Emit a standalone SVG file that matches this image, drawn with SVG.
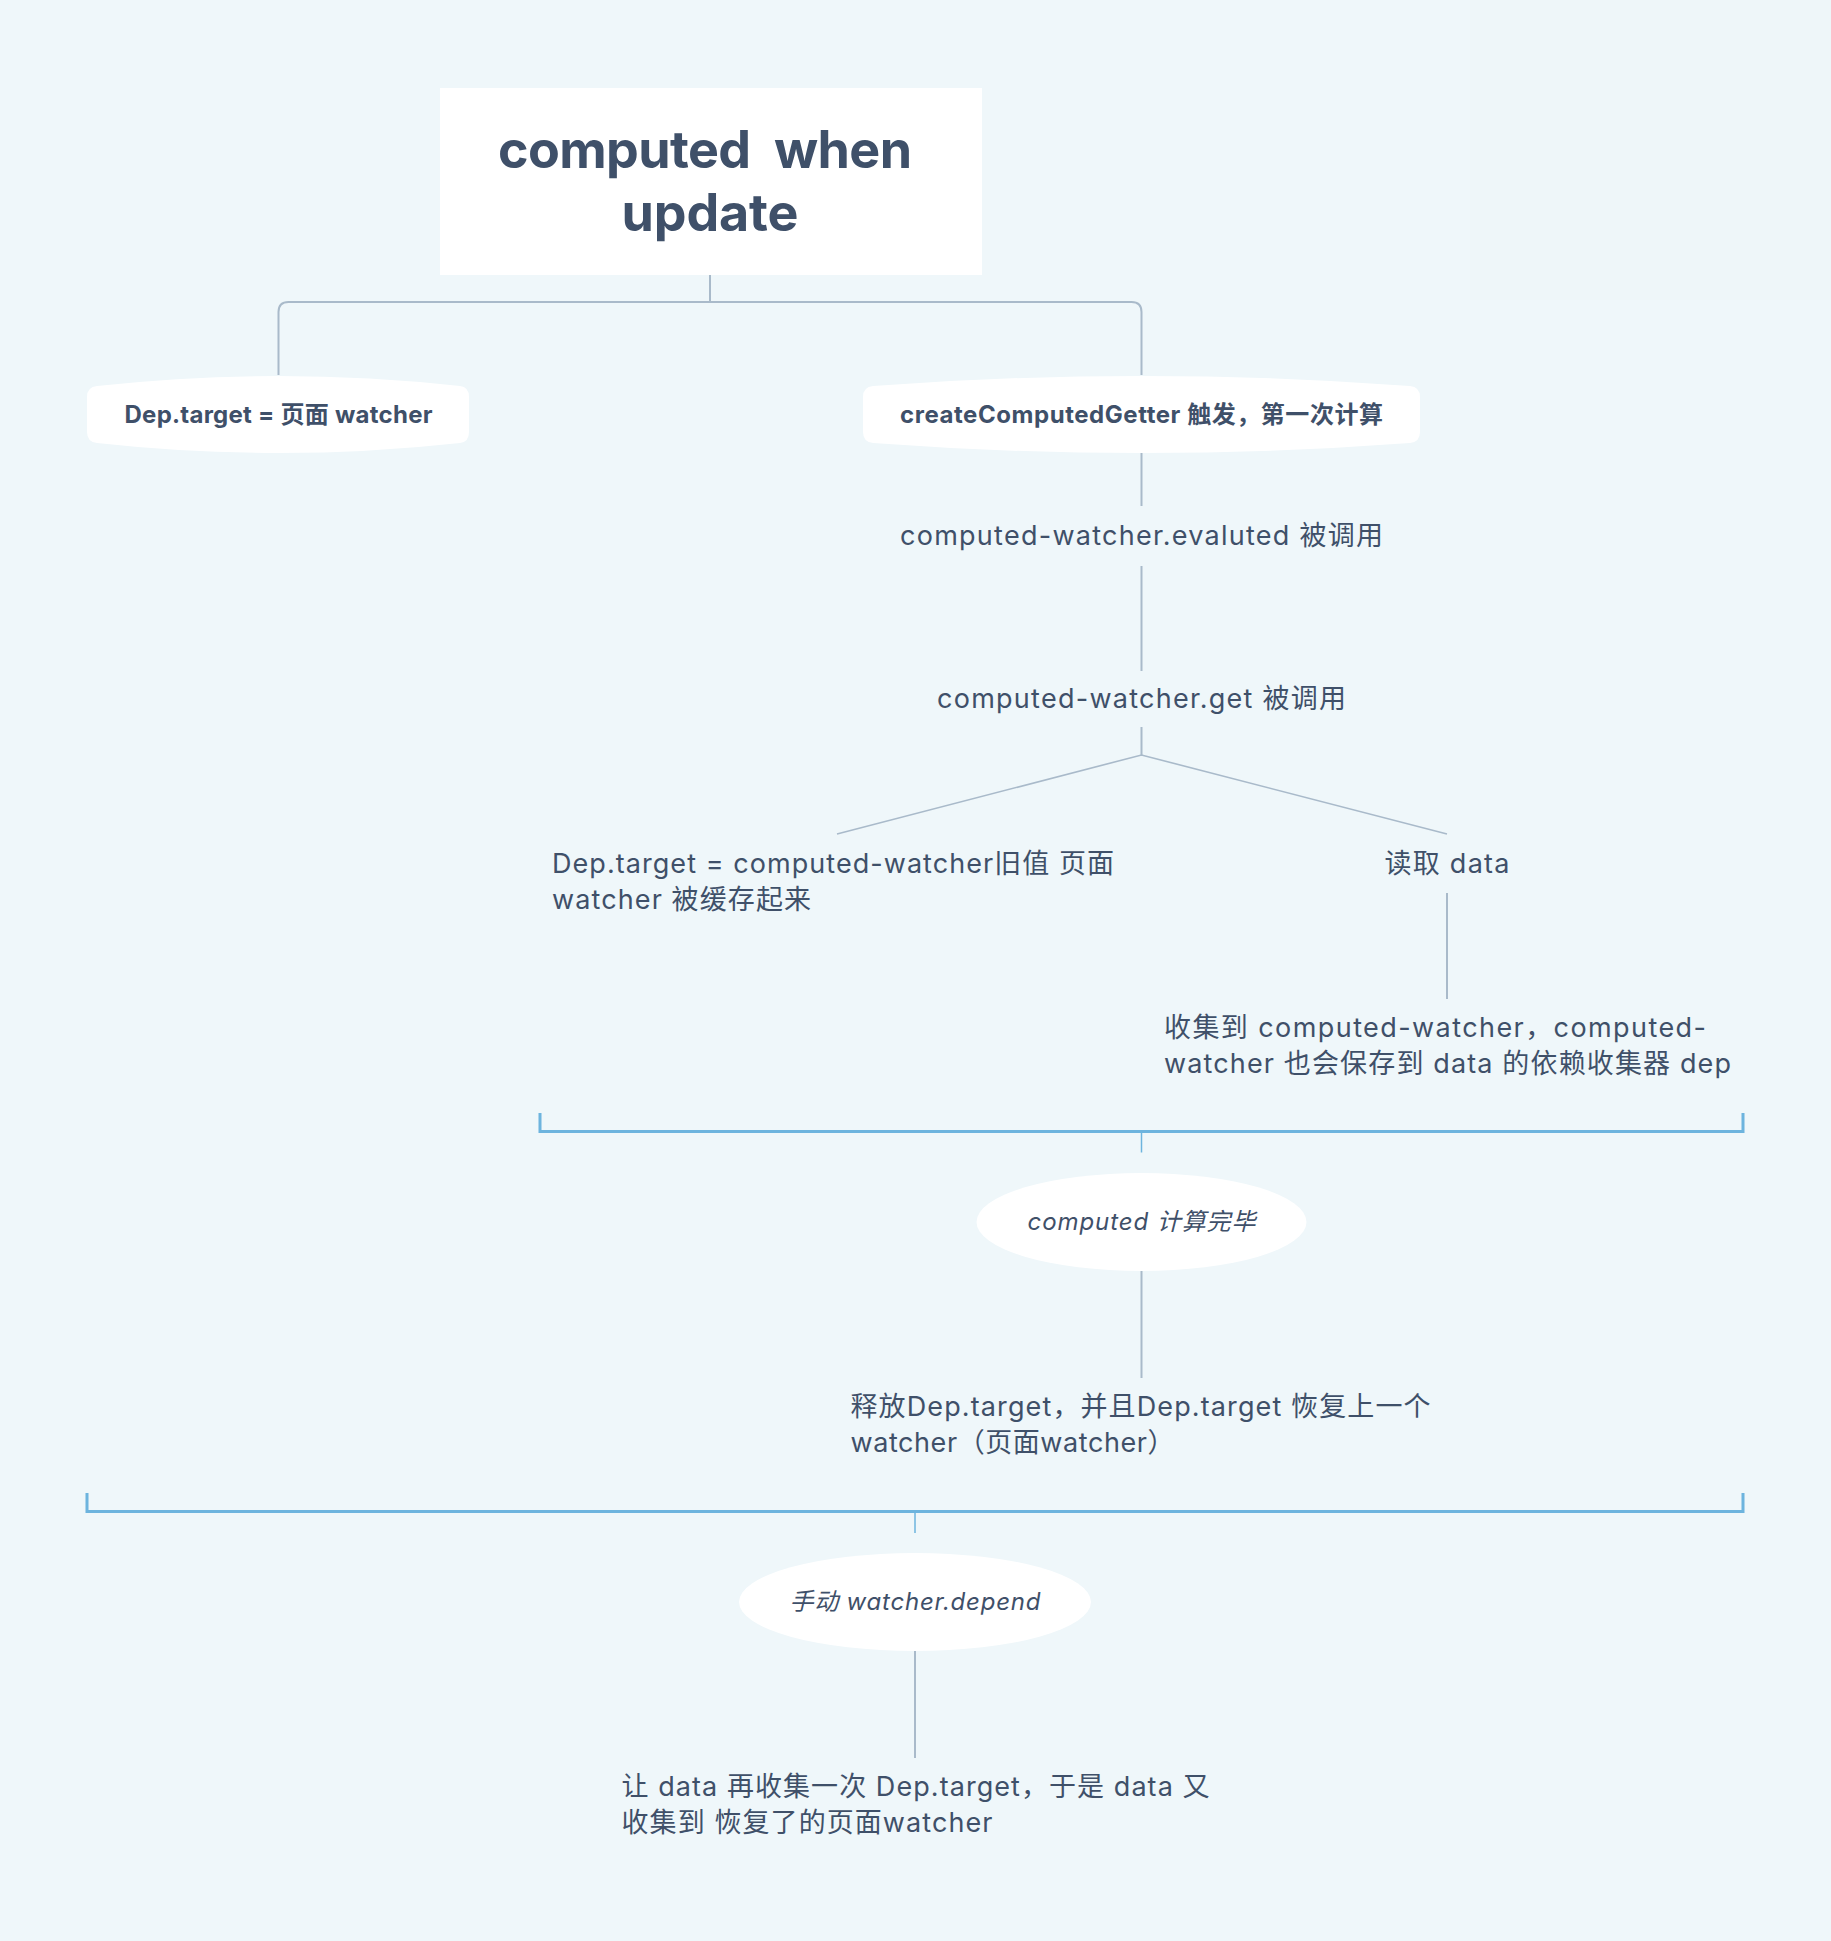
<svg xmlns="http://www.w3.org/2000/svg" width="1831" height="1941" viewBox="0 0 1831 1941">
<style>
.t{font-family:Inter,"Noto Sans CJK SC",sans-serif;fill:#3F5069}
.reg{font-size:27px;font-weight:400}
.bold{font-size:24px;font-weight:700}
.it{font-size:24px;font-style:italic;font-weight:400}
.title{font-size:52px;font-weight:700}
.con{fill:none;stroke:#A9BACA;stroke-width:2}
.br{fill:none;stroke:#6DB4DE;stroke-width:3}
.tick{fill:none;stroke:#6DB4DE;stroke-width:1.5}
.node{fill:#FFFFFF}
</style>
<rect x="0" y="0" width="1831" height="1941" fill="#EFF7FA"/>
<rect x="1470" y="0" width="361" height="300" fill="#EEF6F9"/>
<g id="connectors">
<path class="con" d="M710,275 V302"/>
<path class="con" d="M278.5,375 V312 Q278.5,302 288.5,302 H1131.5 Q1141.5,302 1141.5,312 V375"/>
<path class="con" d="M1141.5,453 V506"/>
<path class="con" d="M1141.5,566 V671"/>
<path class="con" d="M1141.5,727 V755"/>
<path class="con" style="stroke-width:1.6" d="M837,834 L1141.5,755 L1447,834"/>
<path class="con" d="M1447,893 V999"/>
<path class="br" d="M540,1113 V1131.5 H1743 V1113"/>
<path class="tick" d="M1141.5,1131.5 V1152.5"/>
<path class="con" d="M1141.5,1271 V1378"/>
<path class="br" d="M87,1493 V1511.5 H1743 V1493"/>
<path class="tick" d="M915,1511.5 V1533"/>
<path class="con" d="M915,1651 V1758"/>
</g>
<g id="title">
<rect x="440" y="88" width="542" height="187" fill="#FFFFFF"/>
<text class="t title" x="705" y="168" text-anchor="middle" textLength="414">computed&#160; when</text>
<text class="t title" x="710" y="231" text-anchor="middle" textLength="177">update</text>
</g>
<g id="node-dep-target">
<path class="node" d="M97,386 Q278.5,366 460,386 Q469,387 469,397 L469,432 Q469,442 460,443 Q278.5,463 97,443 Q87,442 87,432 L87,397 Q87,387 97,386 Z"/>
<text class="t bold" x="278.5" y="423" text-anchor="middle" textLength="308">Dep.target = 页面 watcher</text>
</g>
<g id="node-create">
<path class="node" d="M873,386 Q1141.5,366 1410,386 Q1420,387 1420,397 L1420,432 Q1420,442 1410,443 Q1141.5,463 873,443 Q863,442 863,432 L863,397 Q863,387 873,386 Z"/>
<text class="t bold" x="1141.5" y="423" text-anchor="middle" textLength="483">createComputedGetter 触发，第一次计算</text>
</g>
<g id="node-evaluted">
<text class="t reg" x="1141.5" y="545" text-anchor="middle" textLength="483">computed-watcher.evaluted 被调用</text>
</g>
<g id="node-get">
<text class="t reg" x="1141.5" y="708" text-anchor="middle" textLength="409">computed-watcher.get 被调用</text>
</g>
<g id="node-dep-cache">
<text class="t reg" x="552" y="873" textLength="562">Dep.target = computed-watcher旧值 页面</text>
<text class="t reg" x="552" y="909" textLength="259">watcher 被缓存起来</text>
</g>
<g id="node-read-data">
<text class="t reg" x="1447" y="873" text-anchor="middle" textLength="125">读取 data</text>
</g>
<g id="node-collect">
<text class="t reg" x="1164" y="1037" textLength="542">收集到 computed-watcher，computed-</text>
<text class="t reg" x="1164" y="1073" textLength="567">watcher 也会保存到 data 的依赖收集器 dep</text>
</g>
<g id="node-computed-done">
<ellipse class="node" cx="1141.5" cy="1222" rx="165" ry="49"/>
<text class="t it" x="1141.5" y="1230" text-anchor="middle" textLength="228">computed 计算完毕</text>
</g>
<g id="node-release">
<text class="t reg" x="850.5" y="1416" textLength="580">释放Dep.target，并且Dep.target 恢复上一个</text>
<text class="t reg" x="850.5" y="1452" textLength="324">watcher（页面watcher）</text>
</g>
<g id="node-depend">
<ellipse class="node" cx="915" cy="1602" rx="176" ry="49"/>
<text class="t it" x="915" y="1610" text-anchor="middle" textLength="251">手动 watcher.depend</text>
</g>
<g id="node-recollect">
<text class="t reg" x="621.5" y="1796" textLength="588">让 data 再收集一次 Dep.target，于是 data 又</text>
<text class="t reg" x="621.5" y="1832" textLength="371">收集到 恢复了的页面watcher</text>
</g>
</svg>
